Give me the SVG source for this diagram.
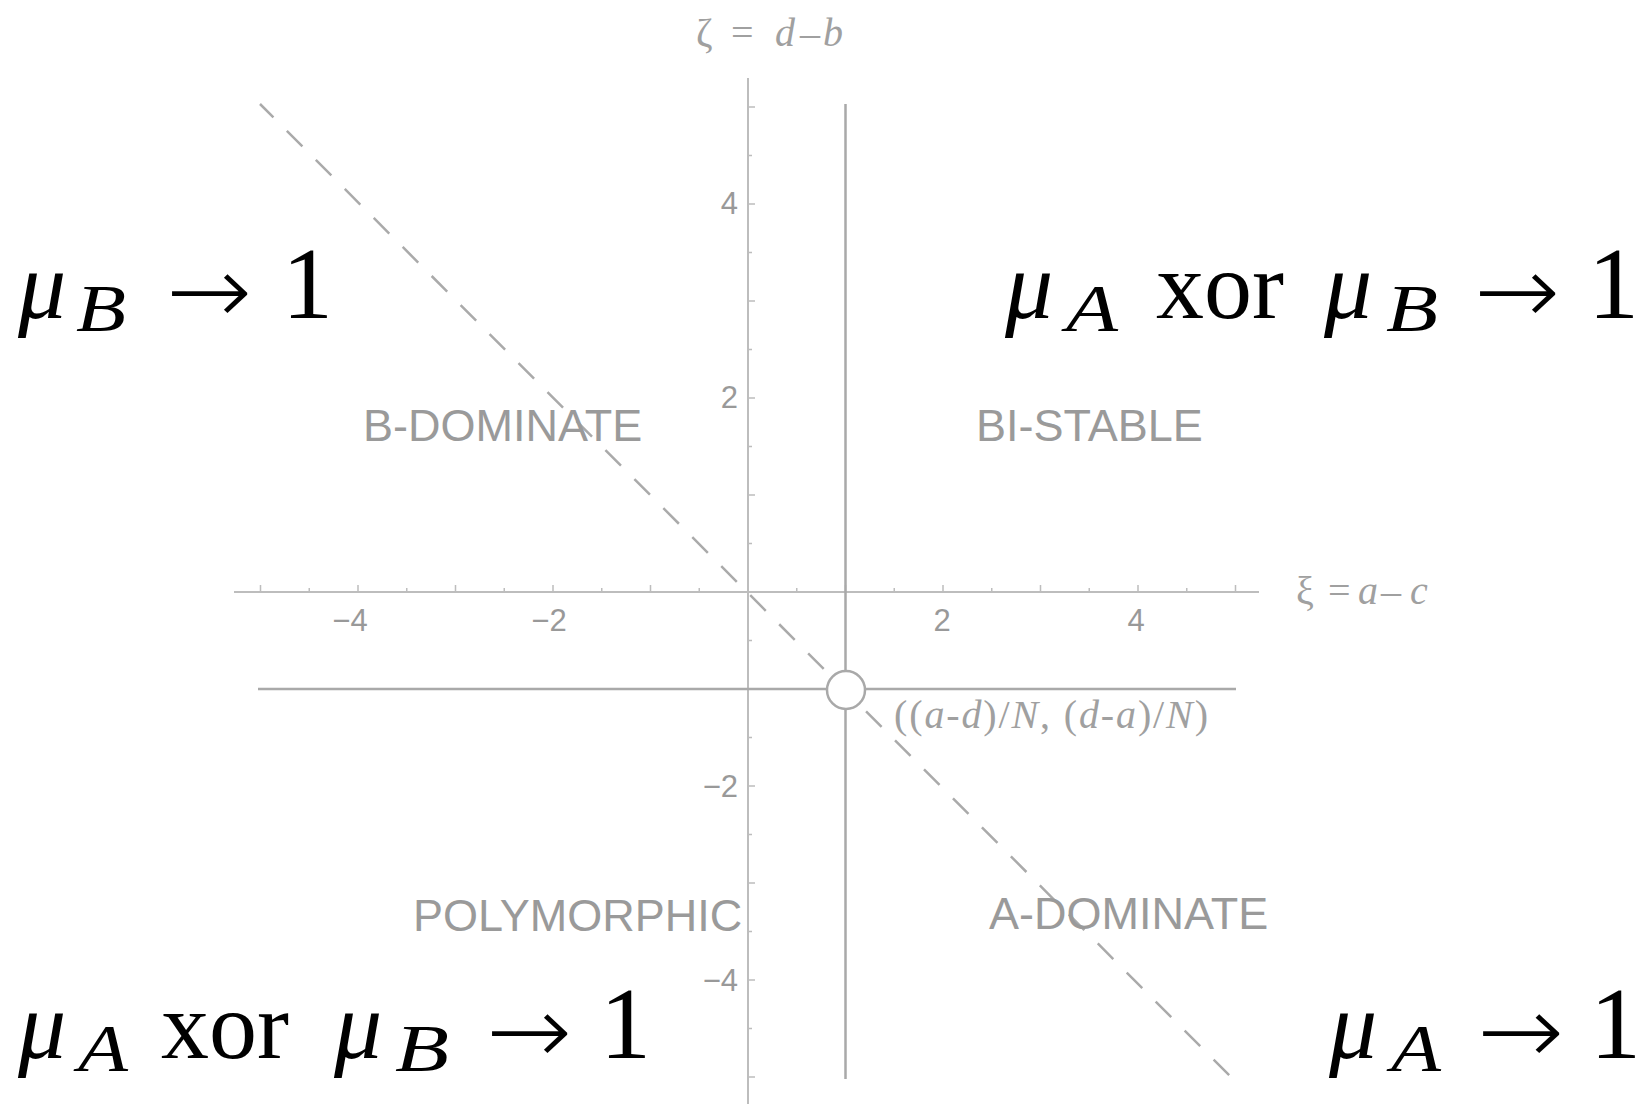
<svg xmlns="http://www.w3.org/2000/svg" width="1640" height="1104" viewBox="0 0 1640 1104">
<style>
.axis{stroke:#bdbdbd;stroke-width:2;fill:none}
.tick{stroke:#bdbdbd;stroke-width:1.5;fill:none}
.line{stroke:#a9a9a9;stroke-width:2.5;fill:none}
.dash{stroke:#aaaaaa;stroke-width:2.5;fill:none;stroke-dasharray:22 19;stroke-dashoffset:3}
.tl{font-family:"Liberation Sans",Arial,sans-serif;font-size:31px;fill:#999}
.region{font-family:"Liberation Sans",Arial,sans-serif;font-size:45px;fill:#9a9a9a}
.ax{font-family:"Liberation Serif","Times New Roman",serif;font-size:40px;fill:#a0a0a0}
.it{font-style:italic}
.m{font-family:"Liberation Serif","Times New Roman",serif;font-size:96px;fill:#000}
.one{font-family:"Liberation Serif","Times New Roman",serif;font-size:102px;fill:#000}
.s{font-family:"Liberation Serif","Times New Roman",serif;font-size:68px;font-style:italic;fill:#000}
.arr{font-family:"DejaVu Sans",sans-serif;font-size:96px;font-weight:200;fill:#000}
</style>
<rect width="1640" height="1104" fill="#fff"/>
<g id="axes">
<line class="axis" x1="234" y1="592" x2="1259" y2="592"/>
<line class="axis" x1="748" y1="78" x2="748" y2="1104"/>
<path class="tick" d="M260.5 592v-7M358 592v-7M455.5 592v-7M553 592v-7M650.5 592v-7M845.5 592v-7M943 592v-7M1040.5 592v-7M1138 592v-7M1235.5 592v-7M309.25 592v-4M406.75 592v-4M504.25 592v-4M601.75 592v-4M699.25 592v-4M796.75 592v-4M894.25 592v-4M991.75 592v-4M1089.25 592v-4M1186.75 592v-4"/>
<path class="tick" d="M748 107h7M748 204h7M748 301h7M748 398h7M748 495h7M748 689h7M748 786h7M748 883h7M748 980h7M748 1077h7M748 155.5h4M748 252.5h4M748 349.5h4M748 446.5h4M748 543.5h4M748 640.5h4M748 737.5h4M748 834.5h4M748 931.5h4M748 1028.5h4"/>
<g id="tick-labels">
<text class="tl" x="350" y="631" text-anchor="middle">−4</text>
<text class="tl" x="549" y="631" text-anchor="middle">−2</text>
<text class="tl" x="942" y="631" text-anchor="middle">2</text>
<text class="tl" x="1136" y="631" text-anchor="middle">4</text>
<text class="tl" x="738" y="214" text-anchor="end">4</text>
<text class="tl" x="738" y="408" text-anchor="end">2</text>
<text class="tl" x="738" y="797" text-anchor="end">−2</text>
<text class="tl" x="738" y="991" text-anchor="end">−4</text>
</g>
<g id="axis-labels">
<text class="ax" y="46"><tspan x="696">ζ</tspan><tspan x="731">=</tspan><tspan x="775" class="it">d</tspan><tspan x="800">–</tspan><tspan x="823" class="it">b</tspan></text>
<text class="ax" y="604" font-size="46"><tspan x="1296">ξ</tspan><tspan x="1328">=</tspan><tspan x="1358" class="it">a</tspan><tspan x="1381">–</tspan><tspan x="1410" class="it">c</tspan></text>
</g>
</g>
<g id="connectors">
<line class="line" x1="845.5" y1="104" x2="845.5" y2="1079"/>
<line class="line" x1="258" y1="689" x2="1236" y2="689"/>
<line class="dash" x1="260" y1="104" x2="1233" y2="1079"/>
</g>
<g id="fixed-point">
<circle cx="846" cy="690" r="19" fill="#fff" stroke="#a9a9a9" stroke-width="2.5"/>
<text class="ax" x="894" y="728" font-size="39" textLength="314" lengthAdjust="spacing">((<tspan class="it">a</tspan>-<tspan class="it">d</tspan>)/<tspan class="it">N</tspan>, (<tspan class="it">d</tspan>-<tspan class="it">a</tspan>)/<tspan class="it">N</tspan>)</text>
</g>
<g id="regions">
<text class="region" x="363" y="441">B-DOMINATE</text>
<text class="region" x="976" y="441">BI-STABLE</text>
<text class="region" x="413" y="931">POLYMORPHIC</text>
<text class="region" x="989" y="929">A-DOMINATE</text>
</g>
<g id="label-tl">
<text class="m it" x="18" y="318">μ</text>
<text class="s" x="76" y="331" textLength="50" lengthAdjust="spacingAndGlyphs">B</text>
<text class="arr" x="166" y="324" textLength="86" lengthAdjust="spacingAndGlyphs">→</text>
<text class="one" x="282" y="318">1</text>
</g>
<g id="label-tr">
<text class="m it" x="1005" y="318">μ</text>
<text class="s" x="1066" y="331" textLength="52" lengthAdjust="spacingAndGlyphs">A</text>
<text class="m" x="1156" y="318">xor</text>
<text class="m it" x="1324" y="318">μ</text>
<text class="s" x="1386" y="331" textLength="52" lengthAdjust="spacingAndGlyphs">B</text>
<text class="arr" x="1474" y="324" textLength="86" lengthAdjust="spacingAndGlyphs">→</text>
<text class="one" x="1588" y="318">1</text>
</g>
<g id="label-bl">
<text class="m it" x="18" y="1058">μ</text>
<text class="s" x="78" y="1071" textLength="50" lengthAdjust="spacingAndGlyphs">A</text>
<text class="m" x="161" y="1058">xor</text>
<text class="m it" x="334" y="1058">μ</text>
<text class="s" x="395" y="1071" textLength="54" lengthAdjust="spacingAndGlyphs">B</text>
<text class="arr" x="486" y="1064" textLength="86" lengthAdjust="spacingAndGlyphs">→</text>
<text class="one" x="600" y="1058">1</text>
</g>
<g id="label-br">
<text class="m it" x="1329" y="1058">μ</text>
<text class="s" x="1391" y="1071" textLength="50" lengthAdjust="spacingAndGlyphs">A</text>
<text class="arr" x="1477" y="1064" textLength="87" lengthAdjust="spacingAndGlyphs">→</text>
<text class="one" x="1590" y="1058">1</text>
</g>
</svg>
